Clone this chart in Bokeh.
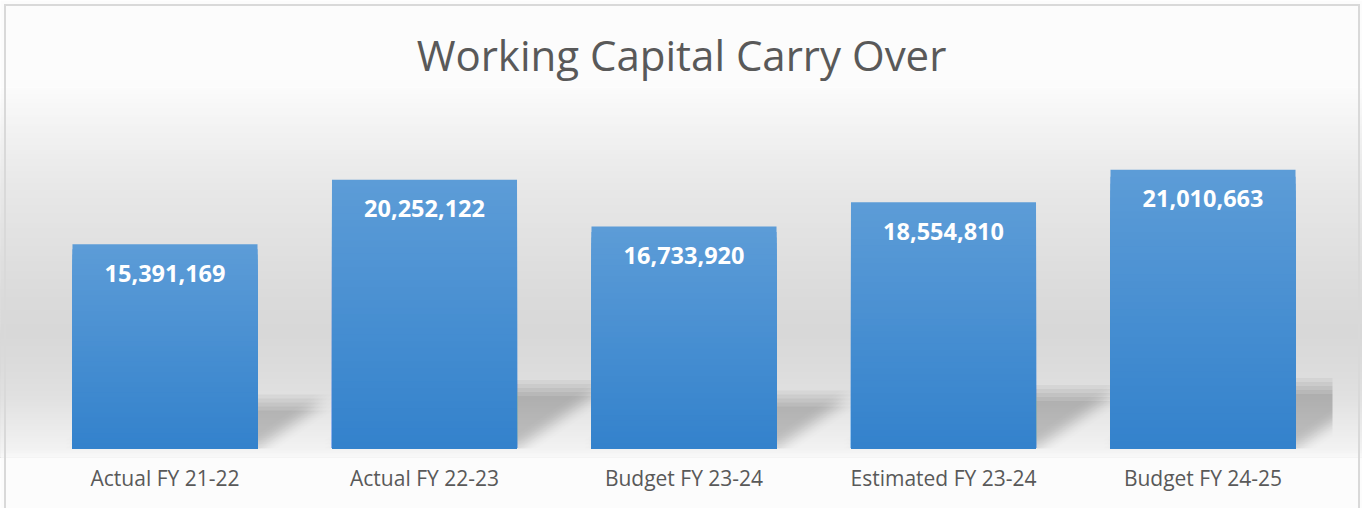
import numpy as np
from bokeh.plotting import figure
from bokeh.models import Range1d, FixedTicker, InlineStyleSheet
from bokeh.core.properties import value
from bokeh.embed import file_html
from bokeh.resources import INLINE

# ---------------- data ----------------
categories = ["Actual FY 21-22", "Actual FY 22-23", "Budget FY 23-24",
              "Estimated FY 23-24", "Budget FY 24-25"]
amounts = [15391169, 20252122, 16733920, 18554810, 21010663]
title_text = "Working Capital Carry Over"

# ---------------- layout / style constants ----------------
W, H = 1362, 508
TOP, BOTTOM = 87, 51          # px above / below the plot frame
PX_X = 259.5                  # px per category slot
PX_Y = 13.27e-6               # px per unit of amount
ZERO_OFF = 9                  # px between zero line and frame bottom
BAR_W = 0.713
FONT = "Open Sans"
TEXT_GREY = "#595959"

pos = np.arange(len(categories), dtype=float)
labels = ["{:,}".format(a) for a in amounts]

x0 = -164.5 / PX_X
x_range = Range1d(x0, x0 + W / PX_X)
frame_h = H - TOP - BOTTOM
y0 = -ZERO_OFF / PX_Y
y1 = (frame_h - ZERO_OFF) / PX_Y
y_range = Range1d(y0, y1)

p = figure(width=W, height=H, x_range=x_range, y_range=y_range,
           output_backend="svg", toolbar_location=None, y_axis_location=None,
           min_border_top=TOP, min_border_bottom=BOTTOM,
           min_border_left=0, min_border_right=0,
           outline_line_color=None, border_fill_color="#fcfcfc")
p.grid.grid_line_color = None

# light grey chart border drawn over the canvas
p.stylesheets = [InlineStyleSheet(css="""
:host { position: relative; }
:host::after {
  content: ""; position: absolute; left: 4px; top: 4px; right: 2px; bottom: -12px;
  border: 2px solid #d9d9d9; pointer-events: none; z-index: 100;
}
""")]

# ---------------- background gradient (screen-row based) ----------------
g_y = [TOP, 110, 140, 180, 200, 250, 300, 333, 360, 395, 430, 450, TOP + frame_h]
g_v = [251, 246, 240, 233, 230, 224, 218, 216, 219, 224, 236, 243, 249]
step = 3
rows = np.arange(TOP, TOP + frame_h, step)
bg_tops = [y1 - (r - TOP) / PX_Y for r in rows]
bg_cols = []
for r in rows:
    g = int(round(np.interp(r + step / 2, g_y, g_v)))
    bg_cols.append("#%02x%02x%02x" % (g, g, g))
p.quad(left=x_range.start, right=x_range.end, bottom=y0, top=bg_tops,
       fill_color=bg_cols, line_color=None)

# ---------------- perspective shadows ----------------
def clip(poly, axis, lim, keep_less):
    out = []
    n = len(poly)
    for i in range(n):
        cur, prev = poly[i], poly[i - 1]
        cin = cur[axis] <= lim if keep_less else cur[axis] >= lim
        pin = prev[axis] <= lim if keep_less else prev[axis] >= lim
        if cin != pin:
            t = (lim - prev[axis]) / (cur[axis] - prev[axis])
            out.append((prev[0] + t * (cur[0] - prev[0]),
                        prev[1] + t * (cur[1] - prev[1])))
        if cin:
            out.append(cur)
    return out

SH_DY = 0.225        # shadow height as fraction of bar height
SH_DX = 0.33         # horizontal skew in px per px of bar height
offs = [-8.0, -4.0, 0.0, 4.0, 8.0]
n_copies = len(offs) ** 2
alpha = 1 - (1 - 0.19) ** (1.0 / n_copies)
sh_xs, sh_ys = [], []
x_clip = len(categories) - 0.5
for xi, a in zip(pos, amounts):
    hw = BAR_W / 2
    dx = SH_DX * a * PX_Y / PX_X
    dy = SH_DY * a
    for ox in offs:
        for oy in offs:
            oxd, oyd = ox / PX_X, oy / PX_Y
            poly = [(xi - hw + oxd, 0 + oyd), (xi + hw + oxd, 0 + oyd),
                    (xi + hw + dx + oxd, dy + oyd), (xi - hw + dx + oxd, dy + oyd)]
            poly = clip(poly, 0, x_clip, True)
            poly = clip(poly, 1, 0.0, False)
            if len(poly) >= 3:
                sh_xs.append([q[0] for q in poly])
                sh_ys.append([q[1] for q in poly])
p.patches(sh_xs, sh_ys, fill_color="black", fill_alpha=alpha, line_color=None)

# ---------------- bars with vertical gradient ----------------
top_c = np.array([92, 156, 215])
bot_c = np.array([52, 130, 204])
N = 40
bx, btop, bcol = [], [], []
for k in range(N):
    f = k / (N - 1)
    c = top_c + (bot_c - top_c) * f
    col = "#%02x%02x%02x" % tuple(int(round(v)) for v in c)
    for xi, a in zip(pos, amounts):
        bx.append(xi)
        btop.append(a * (1 - k / N))
        bcol.append(col)
p.vbar(x=bx, bottom=0, top=btop, width=BAR_W, fill_color=bcol, line_color=None)

# ---------------- value labels ----------------
p.text(x=pos, y=amounts, text=labels, text_align="center",
       text_baseline="alphabetic", y_offset=29,
       text_font=value(FONT), text_font_style="bold",
       text_font_size="23.5px", text_color="white")

# ---------------- title ----------------
p.title.text = title_text
p.title.align = "center"
p.title.text_font = FONT
p.title.text_font_size = "42px"
p.title.text_font_style = "normal"
p.title.text_color = TEXT_GREY

# ---------------- x axis ----------------
ax = p.xaxis[0]
ax.ticker = FixedTicker(ticks=list(pos))
ax.major_label_overrides = {int(i): c for i, c in zip(pos, categories)}
ax.axis_line_color = None
ax.major_tick_line_color = None
ax.minor_tick_line_color = None
ax.major_label_standoff = 0
ax.major_label_text_font = FONT
ax.major_label_text_font_size = "21px"
ax.major_label_text_color = TEXT_GREY

open("out.html", "w").write(file_html(p, INLINE))
